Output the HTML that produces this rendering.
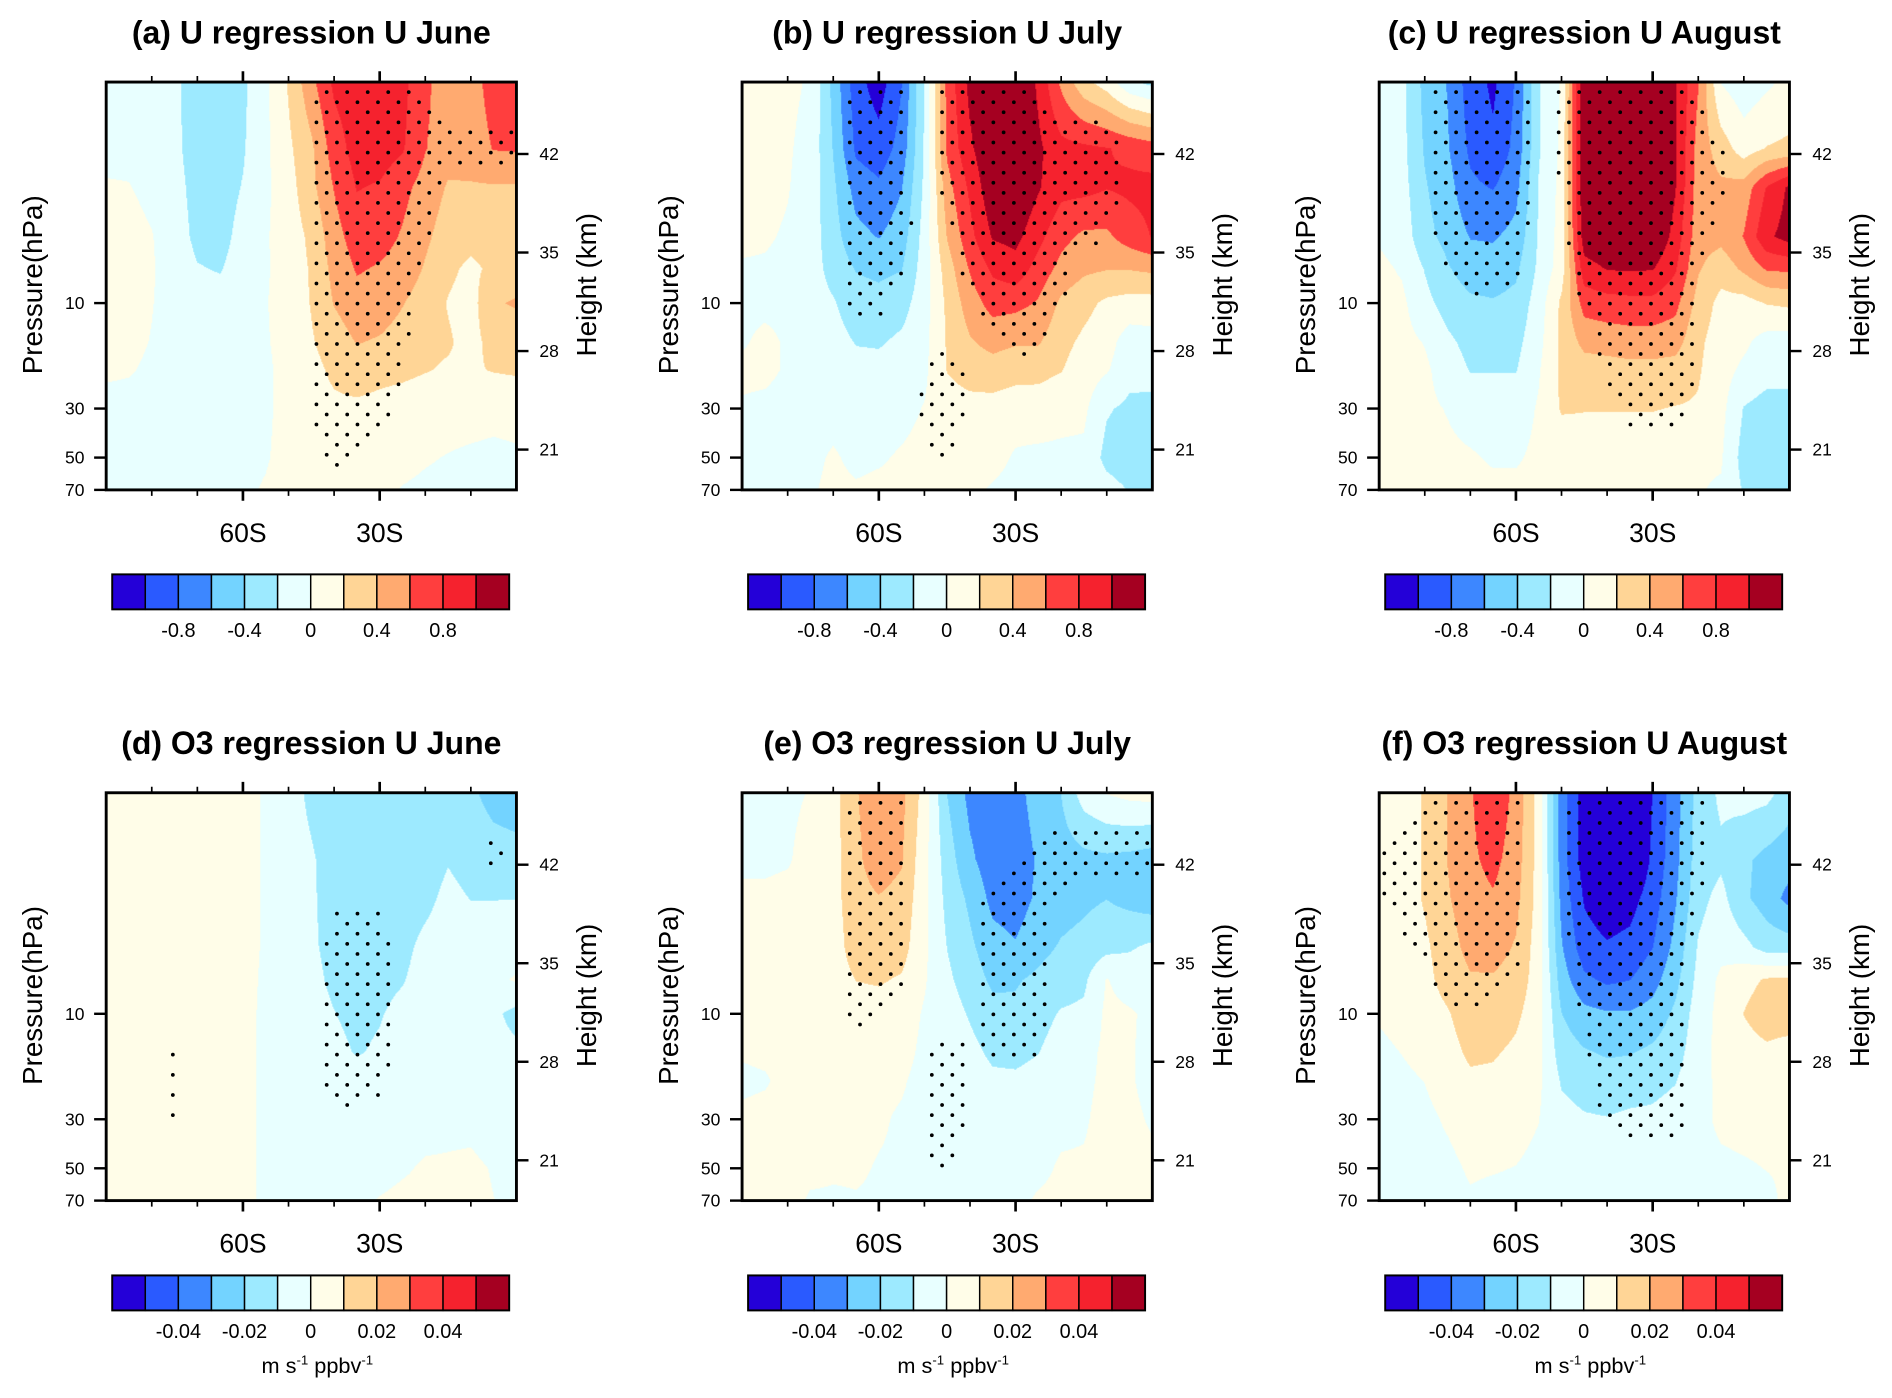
<!DOCTYPE html>
<html>
<head>
<meta charset="utf-8">
<style>
html,body{margin:0;padding:0;background:#fff;overflow:hidden;}
#root{position:relative;width:1568px;height:1159px;transform:scale(1.20663);transform-origin:0 0;font-family:"Liberation Sans",Arial,sans-serif;}
canvas{position:absolute;}
#overlay{position:absolute;left:0;top:0;}
</style>
</head>
<body>
<div id="root">
<svg id="overlay" width="1568" height="1159" viewBox="0 0 1568 1159"></svg>
</div>
<script>
// ---------------- data ----------------
const lats = [-90,-85,-80,-75,-70,-65,-60,-55,-50,-45,-40,-35,-30,-25,-20,-15,-10,-5,0];
const pLevels = [1,2,3,5,7,10,15,20,30,50,70];
const uBounds = [-1.0,-0.8,-0.6,-0.4,-0.2,0,0.2,0.4,0.6,0.8,1.0];
const o3Bounds = [-0.05,-0.04,-0.03,-0.02,-0.01,0,0.01,0.02,0.03,0.04,0.05];
const uTickLabels = ['-0.8','-0.4','0','0.4','0.8'];
const o3TickLabels = ['-0.04','-0.02','0','0.02','0.04'];
const palette = ['#2400d8','#2a5aff','#3d87ff','#73d3ff','#9deaff','#e8ffff','#fffde8','#ffd596','#ffaa70','#ff3e3e','#f5222e','#a50021'];
const pressureTicks = [10,30,50,70];
const heightTicks = [42,35,28,21];
const latMajor = [-60,-30];
const latMajorLabels = ['60S','30S'];
const latMinor = [-80,-70,-50,-40,-20,-10];

// rows: pLevels (1..70 hPa); columns: lats (-90..0)
const uJune = [
[-0.08,-0.08,-0.1,-0.16,-0.3,-0.32,-0.24,-0.04,0.22,0.54,0.84,0.92,0.94,0.86,0.64,0.5,0.52,0.68,0.72],
[-0.06,-0.06,-0.1,-0.16,-0.28,-0.3,-0.22,-0.04,0.16,0.36,0.7,0.88,0.9,0.82,0.61,0.48,0.5,0.61,0.62],
[0.02,0.01,-0.06,-0.14,-0.26,-0.28,-0.19,-0.04,0.12,0.34,0.61,0.81,0.78,0.66,0.52,0.38,0.38,0.38,0.38],
[0.1,0.08,0.01,-0.12,-0.24,-0.26,-0.14,-0.02,0.1,0.24,0.52,0.7,0.68,0.58,0.44,0.3,0.26,0.28,0.3],
[0.1,0.08,0.02,-0.1,-0.19,-0.21,-0.12,-0.02,0.08,0.22,0.46,0.62,0.58,0.52,0.38,0.24,0.16,0.24,0.3],
[0.1,0.08,0.01,-0.1,-0.14,-0.14,-0.1,-0.01,0.08,0.21,0.41,0.52,0.5,0.41,0.3,0.19,0.12,0.38,0.42],
[0.08,0.06,-0.01,-0.1,-0.1,-0.1,-0.1,-0.02,0.08,0.18,0.3,0.41,0.38,0.32,0.24,0.22,0.14,0.26,0.28],
[0.04,0.02,-0.04,-0.1,-0.1,-0.1,-0.08,-0.04,0.08,0.14,0.24,0.3,0.26,0.24,0.21,0.18,0.18,0.21,0.22],
[-0.08,-0.08,-0.1,-0.1,-0.1,-0.1,-0.08,-0.04,0.08,0.12,0.16,0.16,0.14,0.12,0.1,0.1,0.1,0.08,0.1],
[-0.1,-0.1,-0.1,-0.1,-0.1,-0.1,-0.06,-0.02,0.08,0.1,0.12,0.1,0.08,0.06,0.02,-0.01,-0.04,-0.06,-0.04],
[-0.1,-0.1,-0.1,-0.1,-0.1,-0.08,-0.04,0.02,0.1,0.1,0.1,0.08,0.04,-0.01,-0.04,-0.06,-0.08,-0.08,-0.08]
];
const uJuly = [
[0.08,0.06,0.04,-0.02,-0.46,-0.92,-1.1,-0.81,-0.19,0.66,1.06,1.2,1.24,0.96,0.56,0.26,0.1,-0.16,-0.26],
[0.08,0.06,0.02,-0.06,-0.41,-0.84,-0.92,-0.72,-0.18,0.64,0.96,1.2,1.24,1.04,0.86,0.84,0.81,0.76,0.7],
[0.06,0.06,0.01,-0.08,-0.36,-0.68,-0.76,-0.61,-0.16,0.52,0.84,1.16,1.21,1.02,0.86,0.86,0.81,0.84,0.86],
[0.04,0.02,-0.02,-0.1,-0.32,-0.54,-0.61,-0.5,-0.12,0.41,0.74,1.02,1.06,0.86,0.66,0.56,0.56,0.7,0.81],
[-0.02,-0.02,-0.04,-0.1,-0.28,-0.41,-0.44,-0.41,-0.1,0.3,0.62,0.84,0.92,0.72,0.54,0.44,0.41,0.41,0.44],
[-0.04,-0.04,-0.04,-0.1,-0.18,-0.32,-0.34,-0.28,-0.08,0.24,0.5,0.68,0.66,0.58,0.36,0.26,0.16,0.12,0.12],
[-0.02,0.04,-0.02,-0.1,-0.12,-0.21,-0.22,-0.16,-0.06,0.22,0.38,0.46,0.42,0.42,0.26,0.16,0.08,-0.1,-0.08],
[0.04,0.04,-0.02,-0.1,-0.1,-0.14,-0.14,-0.1,-0.04,0.21,0.3,0.32,0.28,0.26,0.21,0.1,0.02,-0.14,-0.12],
[-0.02,-0.04,-0.06,-0.08,-0.06,-0.1,-0.08,-0.06,0.01,0.1,0.12,0.12,0.08,0.1,0.06,0.04,-0.18,-0.24,-0.26],
[-0.06,-0.06,-0.06,-0.04,0.02,-0.04,-0.02,0.02,0.06,0.06,0.08,0.06,-0.02,-0.04,-0.04,-0.04,-0.26,-0.32,-0.36],
[-0.06,-0.06,-0.06,-0.02,0.04,0.02,0.04,0.04,0.06,0.06,0.04,-0.02,-0.06,-0.06,-0.06,-0.06,-0.12,-0.21,-0.24]
];
const uAugust = [
[-0.1,-0.14,-0.46,-0.61,-0.9,-1.04,-0.78,-0.22,0.02,1.2,1.3,1.36,1.36,1.02,0.61,-0.01,-0.12,-0.04,0.06],
[-0.1,-0.14,-0.42,-0.58,-0.84,-0.96,-0.74,-0.22,0.04,1.2,1.3,1.36,1.36,1.02,0.52,0.3,0.1,0.21,0.24],
[-0.08,-0.12,-0.38,-0.52,-0.76,-0.81,-0.66,-0.19,0.06,1.2,1.3,1.36,1.36,1.01,0.5,0.44,0.48,0.81,1.04],
[-0.02,-0.08,-0.34,-0.46,-0.61,-0.62,-0.54,-0.18,0.08,1.12,1.18,1.21,1.21,0.92,0.48,0.46,0.61,0.96,1.08],
[0.04,-0.02,-0.21,-0.38,-0.5,-0.52,-0.44,-0.16,0.1,0.92,1.01,1.02,1.01,0.82,0.42,0.28,0.44,0.62,0.64],
[0.06,0.04,-0.14,-0.28,-0.36,-0.38,-0.34,-0.1,0.24,0.68,0.72,0.74,0.74,0.66,0.32,0.14,0.12,0.21,0.24],
[0.06,0.06,-0.01,-0.16,-0.26,-0.28,-0.26,-0.06,0.24,0.46,0.48,0.5,0.5,0.48,0.24,0.1,0.04,-0.08,-0.1],
[0.06,0.06,0.04,-0.1,-0.21,-0.21,-0.21,-0.02,0.24,0.3,0.32,0.34,0.34,0.32,0.22,0.08,-0.04,-0.12,-0.14],
[0.06,0.06,0.04,-0.01,-0.08,-0.1,-0.1,0.02,0.22,0.21,0.21,0.21,0.21,0.19,0.18,0.06,-0.21,-0.28,-0.26],
[0.08,0.08,0.06,0.04,0.02,-0.02,-0.02,0.04,0.06,0.08,0.08,0.08,0.06,0.04,0.02,0.02,-0.28,-0.36,-0.36],
[0.08,0.08,0.06,0.06,0.06,0.04,0.04,0.06,0.04,0.06,0.06,0.06,0.04,0.02,0.01,-0.02,-0.22,-0.32,-0.36]
];
const o3June = [
[.004,.004,.004,.004,.003,.003,.003,-.001,-.006,-.012,-.015,-.016,-.016,-.016,-.016,-.017,-.018,-.024,-.026],
[.004,.004,.004,.004,.003,.003,.003,-.001,-.006,-.009,-.014,-.016,-.016,-.015,-.014,-.0105,-.013,-.015,-.016],
[.004,.004,.004,.004,.003,.003,.003,-.001,-.006,-.009,-.013,-.015,-.015,-.014,-.012,-.008,-.0102,-.0102,-.0101],
[.004,.004,.004,.004,.003,.003,.003,-.001,-.006,-.009,-.012,-.014,-.014,-.012,-.008,-.006,-.006,-.006,-.005],
[.004,.004,.004,.004,.003,.003,.003,-.0015,-.005,-.008,-.0115,-.013,-.012,-.0105,-.007,-.005,-.004,-.002,.001],
[.004,.004,.004,.004,.003,.003,.003,-.002,-.005,-.007,-.0098,-.012,-.0105,-.008,-.006,-.005,-.005,-.008,-.013],
[.004,.004,.004,.004,.003,.003,.003,-.002,-.004,-.006,-.008,-.0105,-.009,-.006,-.005,-.005,-.005,-.007,-.008],
[.004,.004,.004,.004,.003,.003,.003,-.002,-.004,-.005,-.006,-.006,-.005,-.005,-.004,-.004,-.004,-.005,-.005],
[.004,.004,.004,.004,.003,.003,.003,-.002,-.004,-.005,-.005,-.005,-.004,-.004,-.003,-.002,-.002,-.004,-.004],
[.004,.004,.004,.004,.003,.003,.003,-.002,-.004,-.005,-.004,-.003,-.003,-.001,.001,.001,.0015,-.0005,-.003],
[.004,.004,.004,.004,.003,.003,.003,-.002,-.004,-.005,-.003,-.002,.0005,.002,.002,.002,.002,.0001,-.002]
];
const o3July = [
[-.003,-.003,-.002,.0005,.006,.019,.028,.023,.006,-.0202,-.033,-.036,-.033,-.026,-.0198,-.005,.0005,.003,.004],
[-.002,-.002,-.001,.004,.006,.018,.025,.021,.003,-.015,-.028,-.036,-.035,-.029,-.025,-.023,-.022,-.023,-.025],
[.002,.002,.003,.004,.006,.017,.0195,.017,.003,-.013,-.022,-.033,-.035,-.028,-.024,-.022,-.0202,-.023,-.026],
[.003,.003,.003,.004,.005,.015,.016,.014,.002,-.0102,-.018,-.026,-.029,-.023,-.019,-.017,-.013,-.011,-.008],
[.003,.003,.003,.004,.005,.0102,.011,.009,.001,-.008,-.015,-.022,-.021,-.018,-.015,-.012,.0005,-.004,-.006],
[.003,.003,.003,.004,.004,.006,.006,.005,-.001,-.005,-.011,-.017,-.018,-.014,-.009,-.008,.002,.001,-.002],
[.001,.002,.003,.004,.003,.004,.004,.003,-.002,-.004,-.007,-.012,-.013,-.0102,-.005,-.003,.002,.001,-.003],
[-.002,-.001,.003,.004,.003,.003,.002,.001,-.003,-.004,-.005,-.008,-.008,-.006,-.003,-.002,.002,.001,-.003],
[.002,.003,.002,.003,.002,.002,.001,-.001,-.003,-.003,-.004,-.004,-.005,-.003,-.002,-.001,.003,.002,-.001],
[.003,.003,.003,.002,.001,.001,-.0005,-.001,-.003,-.003,-.003,-.003,-.003,-.002,.001,.001,.003,.003,.002],
[.003,.003,.003,-.001,-.001,-.0005,-.001,-.002,-.003,-.003,-.003,-.003,-.002,.001,.002,.002,.003,.003,.003]
];
const o3August = [
[.003,.005,.011,.0202,.029,.038,.027,.006,-.035,-.055,-.065,-.065,-.0498,-.034,-.016,-.008,-.006,-.007,-.015],
[.003,.005,.011,.0202,.028,.033,.025,.006,-.035,-.055,-.063,-.063,-.048,-.033,-.015,-.012,-.018,-.023,-.026],
[.003,.005,.011,.019,.026,.029,.023,.006,-.033,-.051,-.056,-.054,-.045,-.031,-.013,-.007,-.018,-.025,-.033],
[.003,.005,.008,.016,.023,.024,.019,.005,-.029,-.046,-.049,-.047,-.0402,-.027,-.009,-.003,-.007,-.014,-.015],
[.003,.004,.007,.014,.019,.019,.016,.005,-.025,-.038,-.042,-.0402,-.034,-.023,-.007,.002,.007,.011,.012],
[.001,.003,.005,.009,.016,.016,.012,.004,-.0198,-.027,-.029,-.029,-.026,-.018,-.005,.003,.0102,.015,.015],
[-.002,.0002,.003,.006,.012,.011,.008,.003,-.015,-.019,-.021,-.0205,-.018,-.014,-.004,.003,.006,.008,.006],
[-.003,-.002,.0002,.004,.008,.008,.006,.002,-.011,-.014,-.016,-.015,-.013,-.0105,-.003,.002,.004,.004,.004],
[-.003,-.003,-.002,.001,.004,.004,.003,.0002,-.007,-.009,-.0095,-.008,-.008,-.006,-.003,.002,.003,.003,.003],
[-.003,-.003,-.003,-.002,.001,.0005,-.0002,-.002,-.004,-.004,-.005,-.005,-.004,-.003,-.003,-.002,-.001,.0002,.001],
[-.003,-.003,-.003,-.003,-.001,-.002,-.002,-.003,-.003,-.003,-.003,-.003,-.003,-.003,-.003,-.003,-.003,-.002,.002]
];
// significance masks (fraction significant), same grid
const sigUJune = [
[0,0,0,0,0,0,0,0,0,.4,1,1,1,1,.3,0,0,0,0],
[0,0,0,0,0,0,0,0,0,.4,1,1,1,1,1,.8,.8,.8,.8],
[0,0,0,0,0,0,0,0,0,.4,1,1,1,1,.9,.3,0,0,0],
[0,0,0,0,0,0,0,0,0,.4,1,1,1,1,.6,0,0,0,0],
[0,0,0,0,0,0,0,0,0,.4,1,1,1,1,.4,0,0,0,0],
[0,0,0,0,0,0,0,0,0,.4,1,1,1,.8,.2,0,0,0,0],
[0,0,0,0,0,0,0,0,0,.4,1,1,1,.7,0,0,0,0,0],
[0,0,0,0,0,0,0,0,0,.4,1,1,1,.6,0,0,0,0,0],
[0,0,0,0,0,0,0,0,0,.4,1,1,.8,.3,0,0,0,0,0],
[0,0,0,0,0,0,0,0,0,.4,.7,.6,0,0,0,0,0,0,0],
[0,0,0,0,0,0,0,0,0,0,0,0,0,0,0,0,0,0,0]
];
const sigUJuly = [
[0,0,0,0,0,.8,1,.8,0,1,1,1,1,.2,0,0,0,0,0],
[0,0,0,0,0,.8,1,.8,0,1,1,1,1,1,1,1,1,.2,0],
[0,0,0,0,0,.8,1,.8,0,1,1,1,1,1,1,1,1,.2,0],
[0,0,0,0,0,1,1,.9,0,.2,1,1,1,1,1,1,.4,0,0],
[0,0,0,0,0,1,1,.7,0,.1,.9,1,1,1,.8,0,0,0,0],
[0,0,0,0,0,1,.8,.2,0,0,.3,1,1,1,.6,0,0,0,0],
[0,0,0,0,0,0,0,0,0,.4,.1,.3,1,.8,0,0,0,0,0],
[0,0,0,0,0,0,0,0,.55,1,.5,0,0,0,0,0,0,0,0],
[0,0,0,0,0,0,0,0,.7,1,.4,0,0,0,0,0,0,0,0],
[0,0,0,0,0,0,0,0,.4,.8,0,0,0,0,0,0,0,0,0],
[0,0,0,0,0,0,0,0,0,0,0,0,0,0,0,0,0,0,0]
];
const sigUAugust = [
[0,0,.45,1,1,1,1,.22,.55,1,1,1,1,1,.3,0,0,0,0],
[0,0,.45,1,1,1,1,.22,.55,1,1,1,1,1,1,.6,0,0,0],
[0,0,.45,1,1,1,1,.22,.55,1,1,1,1,1,1,.6,0,0,0],
[0,0,.3,1,1,1,.9,.1,.4,1,1,1,1,1,.8,.3,0,0,0],
[0,0,0,.7,1,1,1,0,.2,1,1,1,1,1,.6,0,0,0,0],
[0,0,0,.1,.5,.3,0,0,0,.5,1,1,1,1,.6,0,0,0,0],
[0,0,0,0,0,0,0,0,0,0,.9,1,1,1,.6,0,0,0,0],
[0,0,0,0,0,0,0,0,0,0,.6,1,1,1,.5,0,0,0,0],
[0,0,0,0,0,0,0,0,0,0,.2,.8,1,.9,.2,0,0,0,0],
[0,0,0,0,0,0,0,0,0,0,0,0,0,0,0,0,0,0,0],
[0,0,0,0,0,0,0,0,0,0,0,0,0,0,0,0,0,0,0]
];
const sigO3June = [
[0,0,0,0,0,0,0,0,0,0,0,0,0,0,0,0,0,0,0],
[0,0,0,0,0,0,0,0,0,0,0,0,0,0,0,0,0,.8,.3],
[0,0,0,0,0,0,0,0,0,0,.3,.4,.3,0,0,0,0,0,0],
[0,0,0,0,0,0,0,0,0,.2,1,1,1,.3,0,0,0,0,0],
[0,0,0,0,0,0,0,0,0,.2,1,1,1,.3,0,0,0,0,0],
[0,0,0,0,0,0,0,0,0,.2,1,1,1,.3,0,0,0,0,0],
[0,0,0,.6,0,0,0,0,0,.2,1,1,1,.3,0,0,0,0,0],
[0,0,0,.7,0,0,0,0,0,.2,1,1,.8,0,0,0,0,0,0],
[0,0,0,.6,0,0,0,0,0,0,.2,.4,.1,0,0,0,0,0,0],
[0,0,0,0,0,0,0,0,0,0,0,0,0,0,0,0,0,0,0],
[0,0,0,0,0,0,0,0,0,0,0,0,0,0,0,0,0,0,0]
];
const sigO3July = [
[0,0,0,0,0,.9,1,.55,0,0,0,0,0,0,0,0,0,0,0],
[0,0,0,0,0,.9,1,.55,0,0,0,0,.5,.8,1,1,1,1,.8],
[0,0,0,0,0,.9,1,.6,0,0,.4,1,1,.9,.5,.2,0,0,0],
[0,0,0,0,0,.9,1,.6,0,0,.4,1,1,.8,0,0,0,0,0],
[0,0,0,0,0,.9,1,.6,0,0,.4,1,1,.8,0,0,0,0,0],
[0,0,0,0,0,.8,.5,0,0,0,.3,.9,1,.8,0,0,0,0,0],
[0,0,0,0,0,0,0,0,.55,1,.4,.6,1,.6,0,0,0,0,0],
[0,0,0,0,0,0,0,0,.55,1,.4,0,0,0,0,0,0,0,0],
[0,0,0,0,0,0,0,0,.55,1,.4,0,0,0,0,0,0,0,0],
[0,0,0,0,0,0,0,0,.4,.7,0,0,0,0,0,0,0,0,0],
[0,0,0,0,0,0,0,0,0,0,0,0,0,0,0,0,0,0,0]
];
const sigO3August = [
[0,0,.45,1,1,1,1,0,.55,1,1,1,1,1,.8,.1,0,0,0],
[.6,1,1,1,1,1,1,0,.55,1,1,1,1,1,.8,.1,0,0,0],
[.4,.9,1,1,1,1,1,0,.55,1,1,1,1,1,.6,0,0,0,0],
[0,.3,.9,1,1,1,1,0,.3,1,1,1,1,1,.3,0,0,0,0],
[0,0,.3,1,1,1,.5,0,0,.9,1,1,1,.9,.2,0,0,0,0],
[0,0,0,.3,.5,.2,0,0,0,.7,1,1,1,.8,0,0,0,0,0],
[0,0,0,0,0,0,0,0,0,.4,1,1,1,.8,0,0,0,0,0],
[0,0,0,0,0,0,0,0,0,.2,1,1,1,.8,0,0,0,0,0],
[0,0,0,0,0,0,0,0,0,0,.7,1,1,.9,.2,0,0,0,0],
[0,0,0,0,0,0,0,0,0,0,0,0,0,0,0,0,0,0,0],
[0,0,0,0,0,0,0,0,0,0,0,0,0,0,0,0,0,0,0]
];

// ---------------- layout ----------------
const NS = 'http://www.w3.org/2000/svg';
const svg = document.getElementById('overlay');
const root = document.getElementById('root');
const PW = 340, PH = 338;
const LOG70 = Math.log10(70);
const SCALE = 1.20663;

function xScale(x0, lat){ return x0 + (lat + 90) / 90 * PW; }
function yScale(y0, p){ return y0 + Math.log10(p) / LOG70 * PH; }
function heightToP(z){ return 1000 * Math.exp(-z / 6.82); }

function mk(tag, attrs, parent){
  const el = document.createElementNS(NS, tag);
  for (const k in attrs) el.setAttribute(k, attrs[k]);
  (parent || svg).appendChild(el);
  return el;
}
function txt(s, attrs, parent){
  const el = mk('text', attrs, parent);
  el.textContent = s;
  return el;
}

function interp(grid, lat, p){
  const c = (lat + 90) / 5;
  let c0 = Math.floor(c); if (c0 > lats.length - 2) c0 = lats.length - 2; if (c0 < 0) c0 = 0;
  const u = c - c0;
  const lp = Math.log10(p);
  let r0 = 0;
  while (r0 < pLevels.length - 2 && Math.log10(pLevels[r0 + 1]) < lp) r0++;
  const a = Math.log10(pLevels[r0]), b = Math.log10(pLevels[r0 + 1]);
  let t = (lp - a) / (b - a); if (t < 0) t = 0; if (t > 1) t = 1;
  const v00 = grid[r0][c0], v01 = grid[r0][c0 + 1], v10 = grid[r0 + 1][c0], v11 = grid[r0 + 1][c0 + 1];
  return (v00 * (1 - u) + v01 * u) * (1 - t) + (v10 * (1 - u) + v11 * u) * t;
}
function hexRGB(h){ return [parseInt(h.substr(1,2),16), parseInt(h.substr(3,2),16), parseInt(h.substr(5,2),16)]; }
const paletteRGB = palette.map(hexRGB);

function colorIndex(v, bounds){
  let k = 0;
  for (let i = 0; i < bounds.length; i++) if (v >= bounds[i] - 1e-12) k = i + 1;
  return k;
}

const panels = [
  {id:'a', title:'(a) U regression U June', grid:uJune, sig:sigUJune, bounds:uBounds, ticks:uTickLabels, x0:88, y0:68, cbY:476, units:false},
  {id:'b', title:'(b) U regression U July', grid:uJuly, sig:sigUJuly, bounds:uBounds, ticks:uTickLabels, x0:615, y0:68, cbY:476, units:false},
  {id:'c', title:'(c) U regression U August', grid:uAugust, sig:sigUAugust, bounds:uBounds, ticks:uTickLabels, x0:1143, y0:68, cbY:476, units:false},
  {id:'d', title:'(d) O3 regression U June', grid:o3June, sig:sigO3June, bounds:o3Bounds, ticks:o3TickLabels, x0:88, y0:657, cbY:1057, units:true},
  {id:'e', title:'(e) O3 regression U July', grid:o3July, sig:sigO3July, bounds:o3Bounds, ticks:o3TickLabels, x0:615, y0:657, cbY:1057, units:true},
  {id:'f', title:'(f) O3 regression U August', grid:o3August, sig:sigO3August, bounds:o3Bounds, ticks:o3TickLabels, x0:1143, y0:657, cbY:1057, units:true}
];

panels.forEach(P => {
  const cv = document.createElement('canvas');
  
  
  const W = Math.round(PW * SCALE), H = Math.round(PH * SCALE);
  cv.width = W; cv.height = H;
  cv.style.left = P.x0 + 'px'; cv.style.top = P.y0 + 'px';
  cv.style.width = PW + 'px'; cv.style.height = PH + 'px';
  root.insertBefore(cv, svg);
  const ctx = cv.getContext('2d');
  const img = ctx.createImageData(W, H);
  for (let j = 0; j < H; j++){
    const fy = (j + 0.5) / H;
    const p = Math.pow(10, fy * LOG70);
    for (let i = 0; i < W; i++){
      const lat = -90 + 90 * (i + 0.5) / W;
      const v = interp(P.grid, lat, p);
      const rgb = paletteRGB[colorIndex(v, P.bounds)];
      const o = (j * W + i) * 4;
      img.data[o] = rgb[0]; img.data[o+1] = rgb[1]; img.data[o+2] = rgb[2]; img.data[o+3] = 255;
    }
  }
  ctx.putImageData(img, 0, 0);

  const g = mk('g', {});
  
  

  const dots = mk('g', {fill:'#000'}, g);
  
  
  for (let j = 0; (j + 1) * 0.0247 < 0.995; j++){
    const fy = (j + 1) * 0.0247;
    const off = (j % 2 === 0) ? 0.75 : 0.25;
    for (let k = 0; k < 20; k++){
      const fx = (k + off) * 0.05;
      if (fx >= 0.995) continue;
      const lat = -90 + 90 * fx, p = Math.pow(70, fy);
      if (interp(P.sig, lat, p) >= 0.5){
        const d = mk('circle', {cx: xScale(P.x0, lat).toFixed(2), cy: yScale(P.y0, p).toFixed(2), r: 1.55}, dots);
        
        
      }
    }
  }

  const fr = mk('rect', {x:P.x0, y:P.y0, width:PW, height:PH, fill:'none', stroke:'#000', 'stroke-width':2.4}, g);
  
  

  const t = txt(P.title, {x:P.x0 + PW/2, y:P.y0 - 32, 'text-anchor':'middle', 'font-size':26.5, 'font-weight':'bold', fill:'#000'}, g);
  
  

  latMajor.forEach((lat, i) => {
    const x = xScale(P.x0, lat);
    const tk = mk('path', {d:`M${x},${P.y0}v-9M${x},${P.y0+PH}v9`, stroke:'#000', 'stroke-width':2.2}, g);
    
    
    const lb = txt(latMajorLabels[i], {x:x, y:P.y0 + PH + 43, 'text-anchor':'middle', 'font-size':22, fill:'#000'}, g);
    
    
  });
  latMinor.forEach(lat => {
    const x = xScale(P.x0, lat);
    const tk = mk('path', {d:`M${x},${P.y0}v-5M${x},${P.y0+PH}v5`, stroke:'#000', 'stroke-width':1.4}, g);
    
    
  });
  pressureTicks.forEach(p => {
    const y = yScale(P.y0, p);
    const tk = mk('path', {d:`M${P.x0},${y}h-10`, stroke:'#000', 'stroke-width':2}, g);
    
    
    const lb = txt(String(p), {x:P.x0 - 18, y:y + 5, 'text-anchor':'end', 'font-size':14.5, fill:'#000'}, g);
    
    
  });
  heightTicks.forEach(z => {
    const y = yScale(P.y0, heightToP(z));
    const tk = mk('path', {d:`M${P.x0+PW},${y}h10`, stroke:'#000', 'stroke-width':2}, g);
    
    
    const lb = txt(String(z), {x:P.x0 + PW + 19, y:y + 5, 'font-size':14.5, fill:'#000'}, g);
    
    
  });
  const cy = P.y0 + 168;
  const yl = txt('Pressure(hPa)', {x:0, y:0, 'text-anchor':'middle', 'font-size':23, fill:'#000', transform:`translate(${P.x0 - 53},${cy}) rotate(-90)`}, g);
  
  
  const yr = txt('Height (km)', {x:0, y:0, 'text-anchor':'middle', 'font-size':23, fill:'#000', transform:`translate(${P.x0 + PW + 66},${cy}) rotate(-90)`}, g);
  
  

  const cb = mk('g', {}, g);
  
  
  const cbX = P.x0 + 5, cbW = 329, cbH = 29, bw = cbW / palette.length;
  palette.forEach((c, i) => {
    const r = mk('rect', {x:(cbX + i*bw).toFixed(2), y:P.cbY, width:bw.toFixed(2), height:cbH, fill:c, stroke:'#000', 'stroke-width':1.2}, cb);
    
    
  });
  const cbo = mk('rect', {x:cbX, y:P.cbY, width:cbW, height:cbH, fill:'none', stroke:'#000', 'stroke-width':1.6}, cb);
  
  
  P.ticks.forEach((s, i) => {
    const lb = txt(s, {x:(cbX + (2 + 2*i) * bw).toFixed(2), y:P.cbY + 52, 'text-anchor':'middle', 'font-size':16.5, fill:'#000'}, cb);
    
    
  });
  if (P.units){
    const un = mk('text', {x:P.x0 + PW/2 + 5, y:P.cbY + 81, 'text-anchor':'middle', 'font-size':18, fill:'#000'}, cb);
    
    
    un.innerHTML = 'm s<tspan dy="-7" font-size="11">-1</tspan><tspan dy="7"> ppbv</tspan><tspan dy="-7" font-size="11">-1</tspan>';
  }
});
</script>
</body>
</html>
